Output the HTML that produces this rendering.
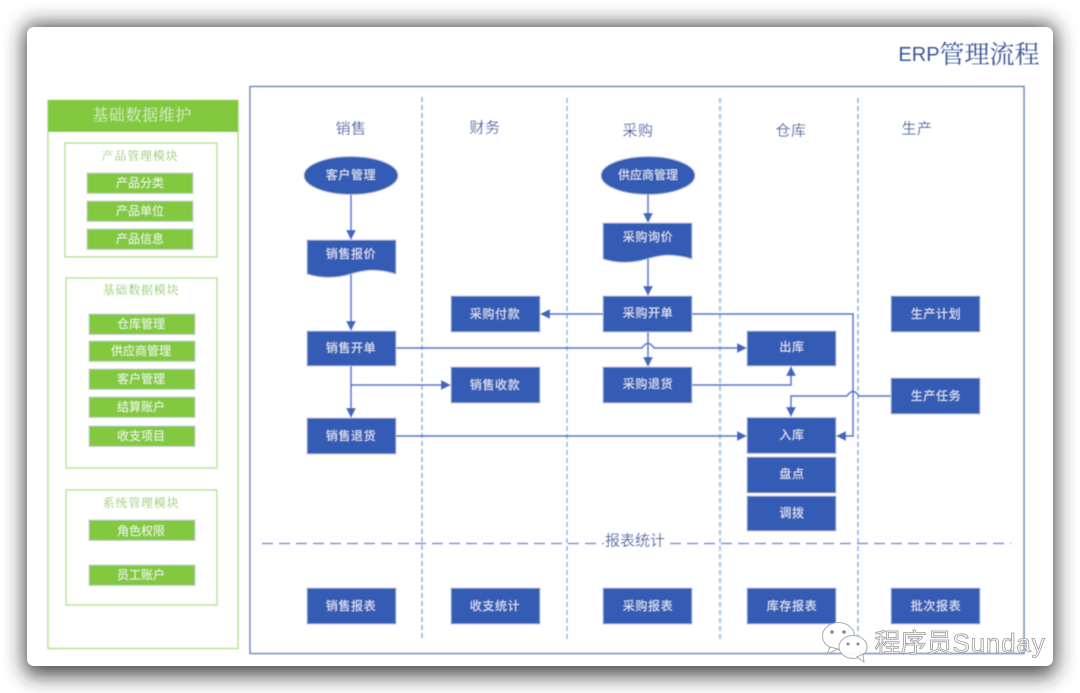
<!DOCTYPE html>
<html><head><meta charset="utf-8">
<style>
html,body{margin:0;padding:0;background:#fff;width:1080px;height:693px;overflow:hidden}
svg{display:block}
text{font-family:"Liberation Sans","Noto Sans CJK SC",sans-serif;text-anchor:middle;dominant-baseline:central}
.b{fill:#355bb5;stroke:#b4c0dc;stroke-width:1}
.w{fill:#e4eaf6;font-size:12px;letter-spacing:.6px}
.g{fill:#82c93f;stroke:#c9cdd2;stroke-width:1}
.gw{fill:#eef8e0;font-size:12px}
.gb{fill:#fff;stroke:#b5e38f;stroke-width:1.5}
.gt{fill:#7cc53a;font-size:12px;letter-spacing:.8px;font-family:"Liberation Sans","Noto Serif CJK SC",serif}
.h{fill:#3f60a8;font-size:15px;letter-spacing:.5px}
.c{fill:none;stroke:#5479d0;stroke-width:1.7}
.a{fill:#3f66c4}
.d{stroke:#7fb0e2;stroke-width:1.5;stroke-dasharray:5 3;fill:none}
</style></head><body>
<svg width="1080" height="693" viewBox="0 0 1080 693" xmlns="http://www.w3.org/2000/svg">
<defs><filter id="s" x="-10%" y="-10%" width="120%" height="120%"><feGaussianBlur stdDeviation="10"/></filter>
<filter id="bl" x="-5%" y="-5%" width="110%" height="110%"><feGaussianBlur stdDeviation=".4"/></filter></defs>
<rect x="24" y="24" width="1032" height="652" rx="10" fill="#222" opacity=".8" filter="url(#s)"/>
<rect x="27" y="27" width="1026" height="639" rx="7" fill="#fff"/>
<g filter="url(#bl)">
<text x="969" y="55" style="font-size:25px;fill:#3a5696;font-family:'Liberation Sans','Noto Serif CJK SC',serif"><tspan style="font-size:20px;font-family:'Liberation Sans',sans-serif">ERP</tspan>管理流程</text>

<rect class="gb" x="48" y="100.500" width="190" height="548"/>
<rect x="48" y="100" width="190" height="32" fill="#82c93f"/>
<text x="142" y="116" style="font-size:16px;fill:#d9efc0;letter-spacing:.6px;font-family:'Liberation Sans','Noto Serif CJK SC',serif">基础数据维护</text>

<rect class="gb" x="65" y="143" width="152" height="114"/>
<text x="140" y="156" class="gt">产品管理模块</text>
<rect class="g" x="87" y="173" width="106" height="20.500"/><text x="140" y="183" class="gw">产品分类</text>
<rect class="g" x="87" y="201" width="106" height="20.500"/><text x="140" y="211" class="gw">产品单位</text>
<rect class="g" x="87" y="229" width="106" height="20.500"/><text x="140" y="239" class="gw">产品信息</text>

<rect class="gb" x="66" y="278" width="151" height="190"/>
<text x="141" y="290" class="gt">基础数据模块</text>
<rect class="g" x="89" y="314" width="106" height="20.500"/><text x="141" y="324" class="gw">仓库管理</text>
<rect class="g" x="89" y="341" width="106" height="20.500"/><text x="141" y="351" class="gw">供应商管理</text>
<rect class="g" x="89" y="369" width="106" height="20.500"/><text x="141" y="379" class="gw">客户管理</text>
<rect class="g" x="89" y="397" width="106" height="20.500"/><text x="141" y="407" class="gw">结算账户</text>
<rect class="g" x="89" y="426" width="106" height="20.500"/><text x="141" y="436" class="gw">收支项目</text>

<rect class="gb" x="66" y="490" width="151" height="115"/>
<text x="141" y="503" class="gt">系统管理模块</text>
<rect class="g" x="89" y="520" width="106" height="20.500"/><text x="141" y="531" class="gw">角色权限</text>
<rect class="g" x="89" y="565" width="106" height="20.500"/><text x="141" y="575" class="gw">员工账户</text>

<rect x="250" y="86.500" width="774" height="567" fill="#fff" stroke="#6f86bb" stroke-width="1.500"/>
<path class="d" d="M422 97V641M567 98V641M720 98V641M858 98V641"/>
<path d="M262 543.500H1011" fill="none" stroke="#6b8fd8" stroke-width="1.500" stroke-dasharray="11 6"/>
<rect x="604" y="534" width="62" height="18" fill="#fff"/>
<text x="635" y="541" style="font-size:15px;fill:#3f5fa6">报表统计</text>

<text x="351" y="129" class="h">销售</text>
<text x="485" y="128" class="h">财务</text>
<text x="638" y="131" class="h">采购</text>
<text x="791" y="131" class="h">仓库</text>
<text x="917" y="129" class="h">生产</text>

<path class="c" d="M351 194V232M351 270V323M351 366V410M351 385H443M396 436H739M648 194V215M648 255V288M648 332V359M603 314H548M692 314H853V436H844M692 385H791V374M891 396H859Q853 387 847 396H791V409"/>
<path class="c" d="M396 348H642Q648 339 654 348H739"/>
<path class="a" d="M346 230H356L351 240ZM346 321H356L351 331ZM346 408H356L351 418ZM441 380V390L451 385ZM737 343V353L747 348ZM737 431V441L747 436ZM643 213H653L648 223ZM643 286H653L648 296ZM643 357H653L648 367ZM550 309V319L540 314ZM846 431V441L836 436ZM786 376H796L791 366ZM786 407H796L791 417Z"/>

<ellipse cx="351" cy="175.500" rx="47" ry="19" fill="#355bb5" stroke="#b4c0dc"/>
<text x="351" y="175" class="w">客户管理</text>
<ellipse cx="648" cy="175.500" rx="47" ry="19" fill="#355bb5" stroke="#b4c0dc"/>
<text x="648" y="175" class="w" style="letter-spacing:0">供应商管理</text>

<path class="b" d="M307 240H396V274C376 268 364 270 351 274C338 278 322 279 307 274Z"/>
<text x="351" y="254" class="w">销售报价</text>
<path class="b" d="M603 223H692V259C672 253 660 255 647 259C634 263 618 264 603 259Z"/>
<text x="648" y="237" class="w">采购询价</text>

<rect class="b" x="307" y="331" width="89" height="35"/><text x="351" y="348" class="w">销售开单</text>
<rect class="b" x="307" y="418" width="89" height="36"/><text x="351" y="436" class="w">销售退货</text>
<rect class="b" x="451" y="296" width="89" height="36"/><text x="495" y="314" class="w">采购付款</text>
<rect class="b" x="451" y="367" width="89" height="36"/><text x="495" y="385" class="w">销售收款</text>
<rect class="b" x="603" y="296" width="89" height="36"/><text x="648" y="313" class="w">采购开单</text>
<rect class="b" x="603" y="367" width="89" height="36"/><text x="648" y="384" class="w">采购退货</text>
<rect class="b" x="747" y="331" width="89" height="35"/><text x="792" y="347" class="w">出库</text>
<rect class="b" x="747" y="417.500" width="89" height="36"/><text x="792" y="435" class="w">入库</text>
<rect class="b" x="747" y="457" width="89" height="36"/><text x="792" y="474" class="w">盘点</text>
<rect class="b" x="747" y="496" width="89" height="35"/><text x="792" y="513" class="w">调拨</text>
<rect class="b" x="891" y="296" width="89" height="36"/><text x="936" y="314" class="w">生产计划</text>
<rect class="b" x="891" y="378" width="89" height="36"/><text x="936" y="396" class="w">生产任务</text>

<rect class="b" x="307" y="588" width="89" height="36"/><text x="351" y="606" class="w">销售报表</text>
<rect class="b" x="451" y="588" width="89" height="36"/><text x="495" y="606" class="w">收支统计</text>
<rect class="b" x="603" y="588" width="89" height="36"/><text x="648" y="606" class="w">采购报表</text>
<rect class="b" x="747" y="588" width="89" height="36"/><text x="792" y="606" class="w">库存报表</text>
<rect class="b" x="891" y="588" width="89" height="36"/><text x="936" y="606" class="w">批次报表</text>
</g>

<g stroke="#a8a8a8" stroke-width="1" fill="#fff" opacity=".95">
<ellipse cx="838.500" cy="636" rx="16" ry="13.500"/>
<path d="M830 647L827 654L838 649Z"/>
<ellipse cx="853" cy="647" rx="14" ry="11.500"/>
<path d="M857 657L864 662L863 654Z"/>
</g>
<g fill="#888"><circle cx="832" cy="632" r="1.800"/><circle cx="844" cy="632" r="1.800"/><circle cx="848" cy="644" r="1.500"/><circle cx="858" cy="644" r="1.500"/></g>
<text x="960" y="643" style="font-size:26px;fill:#fff;stroke:#9a9a9a;stroke-width:.8px">程序员<tspan style="letter-spacing:.8px">Sunday</tspan></text>
</svg>
</body></html>
